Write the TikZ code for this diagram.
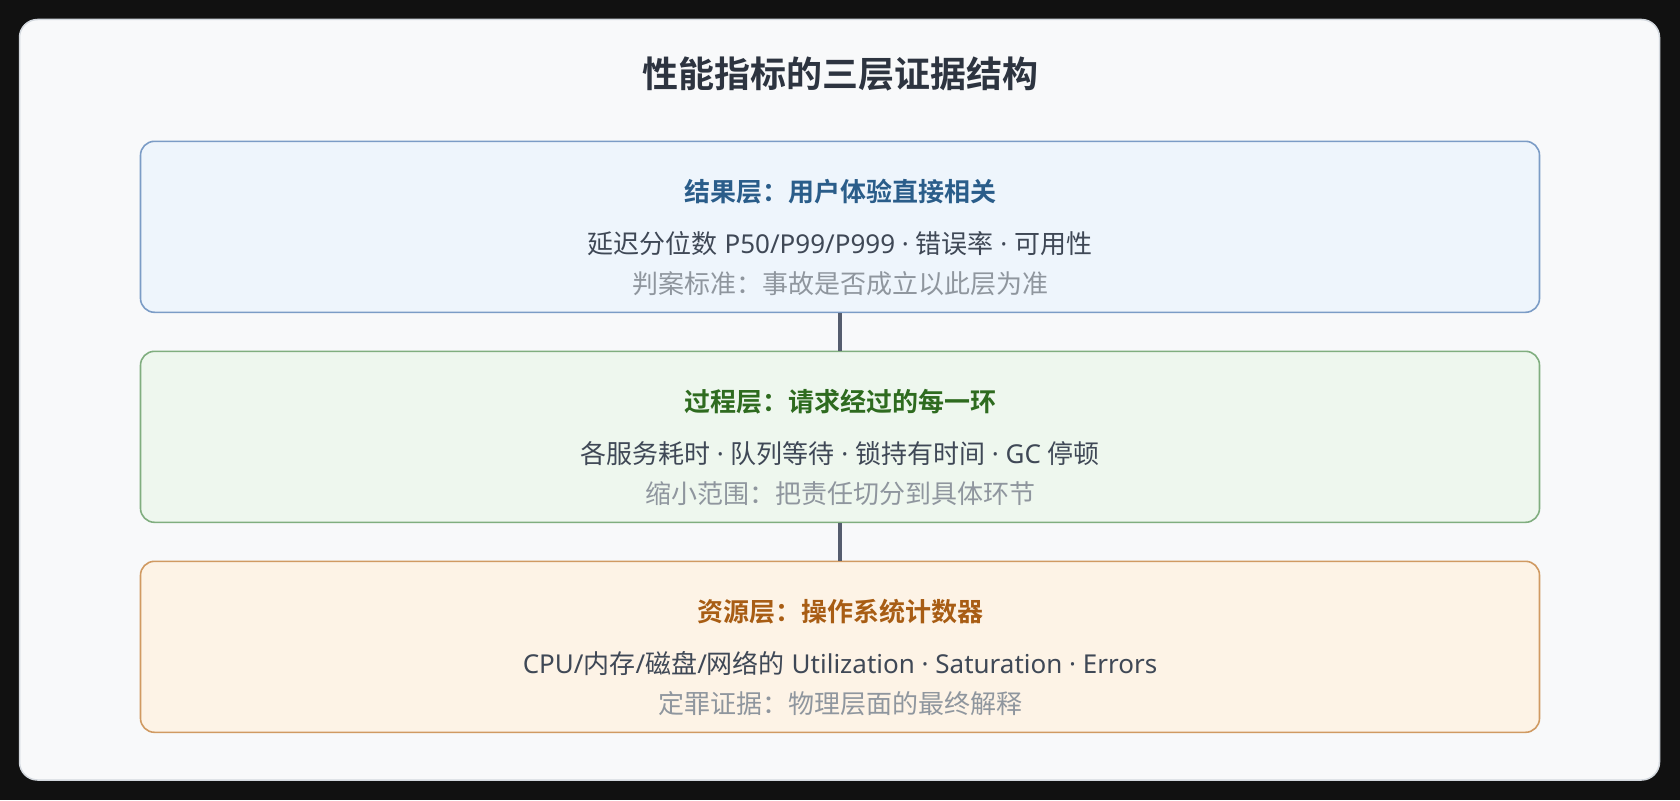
\documentclass[tikz,border=0pt]{standalone}
\usepackage{fontspec}
\setmainfont{Noto Sans CJK SC}[BoldFont={Noto Sans CJK SC Bold}]
\newfontfamily\latfont{Noto Sans}
\newcommand\lt[1]{{\latfont #1}}
\definecolor{pagebg}{HTML}{111111}
\definecolor{cardfill}{HTML}{F8F9FA}
\definecolor{carddraw}{HTML}{D3D8DE}
\definecolor{titlec}{HTML}{2D3440}
\definecolor{bluefill}{HTML}{EEF5FC}
\definecolor{bluedraw}{HTML}{7B9CC6}
\definecolor{bluetxt}{HTML}{2A5D8A}
\definecolor{greenfill}{HTML}{EEF7EE}
\definecolor{greendraw}{HTML}{80AE7F}
\definecolor{greentxt}{HTML}{2E6B1F}
\definecolor{orangefill}{HTML}{FDF3E6}
\definecolor{orangedraw}{HTML}{D09A62}
\definecolor{orangetxt}{HTML}{A85D14}
\definecolor{maintxt}{HTML}{3F4856}
\definecolor{subtxt}{HTML}{8F969E}
\definecolor{linkc}{HTML}{555D6E}
\begin{document}
\begin{tikzpicture}[x=1pt,y=-1pt,
  layerbox/.style={draw, line width=1.6pt, rounded corners=14pt, minimum width=1399pt, minimum height=171pt, inner sep=0pt, anchor=north},
  boxtitle/.style={anchor=base, font=\fontsize{26}{30}\selectfont\bfseries, inner sep=0pt},
  boxmain/.style={anchor=base, font=\fontsize{26}{30}\selectfont, text=maintxt, inner sep=0pt},
  boxsub/.style={anchor=base, font=\fontsize{26}{30}\selectfont, text=subtxt, inner sep=0pt},
  link/.style={draw=linkc, line width=4pt}]
\fill[pagebg] (0,0) rectangle (1680,800);
\useasboundingbox (0,0) rectangle (1680,800);
\filldraw[fill=cardfill, draw=carddraw, line width=1.5pt, rounded corners=18pt] (19.5,19.5) rectangle (1659.5,780);
\node[anchor=base, font=\fontsize{36}{42}\selectfont\bfseries, text=titlec, inner sep=0pt] (title) at (840,88) {性能指标的三层证据结构};
\node[layerbox, fill=bluefill, draw=bluedraw] (b1) at (840,140.5) {};
\node[layerbox, fill=greenfill, draw=greendraw] (b2) at (840,350.5) {};
\node[layerbox, fill=orangefill, draw=orangedraw] (b3) at (840,560.5) {};
\draw[link] (b1.south) -- (b2.north);
\draw[link] (b2.south) -- (b3.north);
\node[boxtitle, text=bluetxt] (t1) at (840,201.5) {结果层：用户体验直接相关};
\node[boxmain] (m1) at (840,253) {延迟分位数\lt{ P50/P99/P999 · }错误率\lt{ · }可用性};
\node[boxsub] (s1) at (840,293) {判案标准：事故是否成立以此层为准};
\node[boxtitle, text=greentxt] (t2) at (840,411.5) {过程层：请求经过的每一环};
\node[boxmain] (m2) at (840,463) {各服务耗时\lt{ · }队列等待\lt{ · }锁持有时间\lt{ · GC }停顿};
\node[boxsub] (s2) at (840,503) {缩小范围：把责任切分到具体环节};
\node[boxtitle, text=orangetxt] (t3) at (840,621.5) {资源层：操作系统计数器};
\node[boxmain] (m3) at (840,673) {\lt{CPU/}内存\lt{/}磁盘\lt{/}网络的\lt{ Utilization · Saturation · Errors}};
\node[boxsub] (s3) at (840,713) {定罪证据：物理层面的最终解释};
\end{tikzpicture}
\end{document}
